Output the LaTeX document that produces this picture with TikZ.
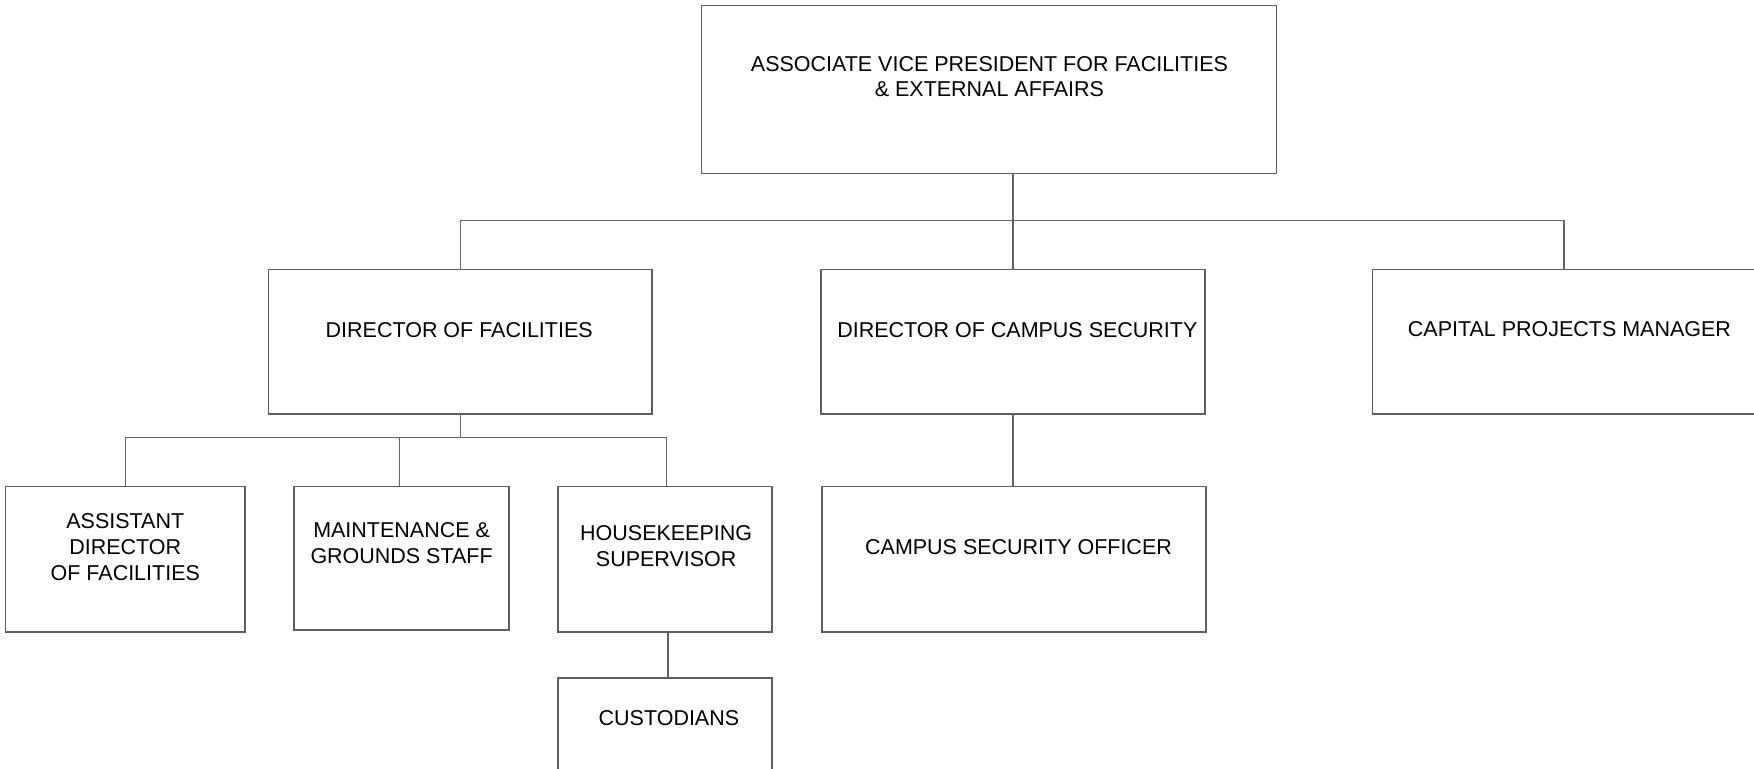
\documentclass[tikz,border=0pt]{standalone}
\usepackage{fontspec}
\setmainfont{Liberation Sans}
\usetikzlibrary{calc}
\definecolor{boxline}{RGB}{95,95,95}
\definecolor{connline}{RGB}{100,100,100}
\begin{document}
\begin{tikzpicture}[x=1pt,y=-1pt,
  box/.style={draw=boxline,line width=1.3pt,rectangle,inner sep=0pt},
  conn/.style={draw=connline,line width=1.3pt},
  lbl/.style={align=center,inner sep=0pt,font=\fontsize{19.2}{23}\selectfont}]
\useasboundingbox (0,0) rectangle (1568,686.6);
\clip (0,0) rectangle (1568,686.6);
% boxes
\node[box,minimum width=514pt,minimum height=150pt] (avp) at (884,80) {};
\node[box,minimum width=343pt,minimum height=129pt] (dirfac) at (411.5,305.5) {};
\node[box,minimum width=343pt,minimum height=129pt] (dirsec) at (905.5,305.5) {};
\node[box,minimum width=543pt,minimum height=129pt] (cap) at (1498.5,305.5) {};
\node[box,minimum width=214pt,minimum height=130pt] (asst) at (112,500) {};
\node[box,minimum width=192pt,minimum height=128pt] (maint) at (359,499) {};
\node[box,minimum width=191pt,minimum height=130pt] (hk) at (594.5,500) {};
\node[box,minimum width=343pt,minimum height=130pt] (cso) at (906.5,500) {};
\node[box,minimum width=191pt,minimum height=194pt] (cust) at (594.5,703) {};
\coordinate (capin) at (1398,241);
\coordinate (maintin) at (357,435);
\coordinate (hkin) at (596,435);
\coordinate (custin) at (597,606);
% texts
\node[lbl] (tavp) at (884.5,68.5) {ASSOCIATE VICE PRESIDENT FOR FACILITIES\\\& EXTERNAL AFFAIRS};
\node[lbl] (tdirfac) at (410.5,295) {DIRECTOR OF FACILITIES};
\node[lbl] (tdirsec) at (909.5,295) {DIRECTOR OF CAMPUS SECURITY};
\node[lbl] (tcap) at (1403,294) {CAPITAL PROJECTS MANAGER};
\node[lbl] (tasst) at (112,489) {ASSISTANT\\DIRECTOR\\OF FACILITIES};
\node[lbl] (tmaint) at (359,485.5) {MAINTENANCE \&\\GROUNDS STAFF};
\node[lbl] (thk) at (595.5,488.5) {HOUSEKEEPING\\SUPERVISOR};
\node[lbl] (tcso) at (910.5,489) {CAMPUS SECURITY OFFICER};
\node[lbl] (tcust) at (598,642) {CUSTODIANS};
% connectors
\draw[conn] (dirsec.north) -- (dirsec.north |- avp.south);
\draw[conn] (dirfac.north) -- ++(0,-43) -| (capin);
\draw[conn] (dirfac.south) -- ++(0,21);
\draw[conn] (asst.north) |- ($(hkin)+(0,-44)$) -- (hkin);
\draw[conn] (maintin) -- ++(0,-44);
\draw[conn] (dirsec.south) -- (dirsec.south |- cso.north);
\draw[conn] (custin |- hk.south) -- (custin);
\end{tikzpicture}
\end{document}
